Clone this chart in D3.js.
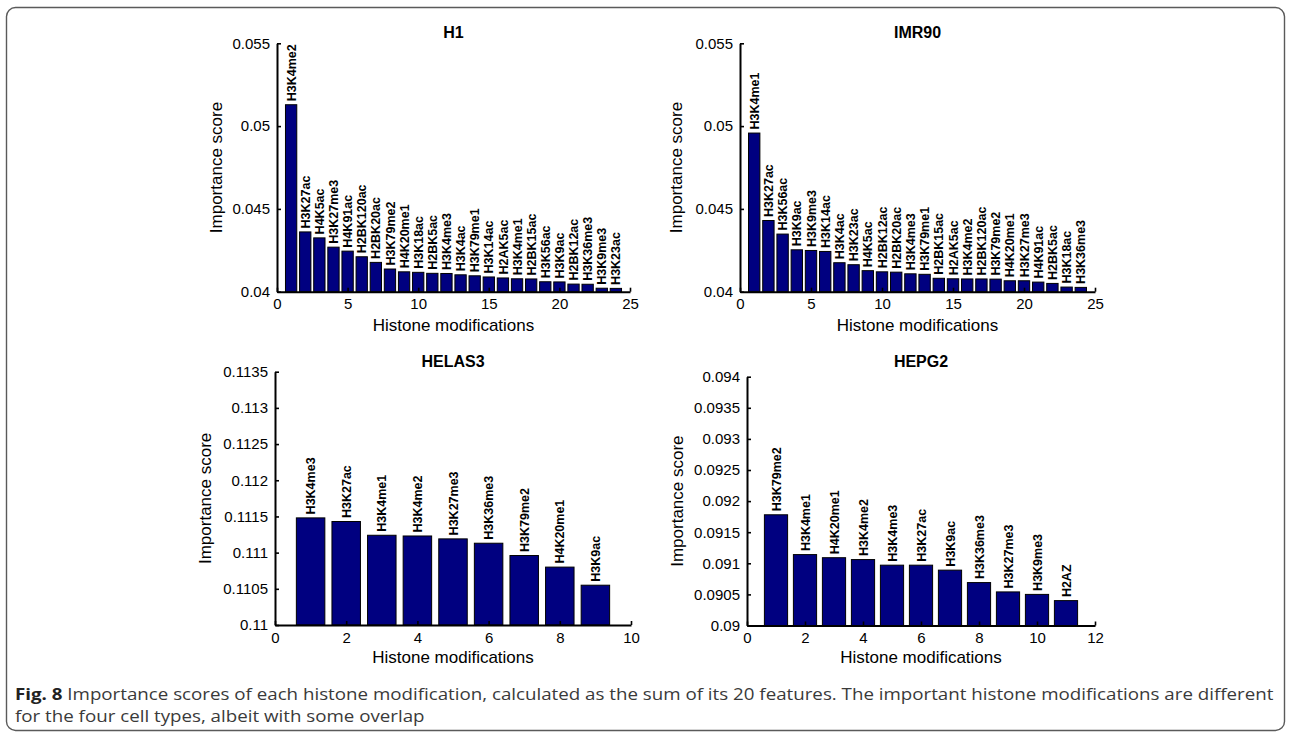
<!DOCTYPE html>
<html>
<head>
<meta charset="utf-8">
<script src="https://cdn.jsdelivr.net/npm/d3@7"></script>
<style>
  html, body { margin: 0; padding: 0; background: #ffffff; }
  svg { display: block; }
</style>
</head>
<body>
<svg id="fig" width="1292" height="734"></svg>
<script>
// ---- Importance scores per histone modification, one set per cell type ----
const h1Marks = ["H3K4me2","H3K27ac","H4K5ac","H3K27me3","H4K91ac","H2BK120ac","H2BK20ac","H3K79me2",
  "H4K20me1","H3K18ac","H2BK5ac","H3K4me3","H3K4ac","H3K79me1","H3K14ac","H2AK5ac","H3K4me1",
  "H2BK15ac","H3K56ac","H3K9ac","H2BK12ac","H3K36me3","H3K9me3","H3K23ac"];
const h1Scores = [0.05129,0.04361,0.04325,0.04269,0.04245,0.04211,0.04177,0.04137,
  0.04120,0.04117,0.04111,0.04110,0.04102,0.04096,0.04089,0.04083,0.04078,
  0.04077,0.04060,0.04059,0.04046,0.04045,0.04021,0.04020];

const imr90Marks = ["H3K4me1","H3K27ac","H3K56ac","H3K9ac","H3K9me3","H3K14ac","H3K4ac","H3K23ac",
  "H4K5ac","H2BK12ac","H2BK20ac","H3K4me3","H3K79me1","H2BK15ac","H2AK5ac","H3K4me2","H2BK120ac",
  "H3K79me2","H4K20me1","H3K27me3","H4K91ac","H2BK5ac","H3K18ac","H3K36me3"];
const imr90Scores = [0.04958,0.04430,0.04348,0.04253,0.04249,0.04243,0.04175,0.04163,
  0.04127,0.04120,0.04118,0.04108,0.04105,0.04081,0.04078,0.04077,0.04077,
  0.04076,0.04066,0.04066,0.04058,0.04050,0.04028,0.04026];

const helas3Marks = ["H3K4me3","H3K27ac","H3K4me1","H3K4me2","H3K27me3","H3K36me3","H3K79me2","H4K20me1","H3K9ac"];
const helas3Scores = [0.11148,0.11143,0.11124,0.11123,0.11119,0.11113,0.11096,0.11080,0.11055];

const hepg2Marks = ["H3K79me2","H3K4me1","H4K20me1","H3K4me2","H3K4me3","H3K27ac","H3K9ac","H3K36me3","H3K27me3","H3K9me3","H2AZ"];
const hepg2Scores = [0.09178,0.09114,0.09109,0.09106,0.09097,0.09097,0.09089,0.09069,0.09054,0.09050,0.09040];

// ---- Axis tick values and their printed labels ----
const topXTicks = [0, 5, 10, 15, 20, 25];
const topYTicks = [0.04, 0.045, 0.05, 0.055];
const topYLabels = ["0.04", "0.045", "0.05", "0.055"];
const helas3XTicks = [0, 2, 4, 6, 8, 10];
const helas3YTicks = [0.11, 0.1105, 0.111, 0.1115, 0.112, 0.1125, 0.113, 0.1135];
const helas3YLabels = ["0.11", "0.1105", "0.111", "0.1115", "0.112", "0.1125", "0.113", "0.1135"];
const hepg2XTicks = [0, 2, 4, 6, 8, 10, 12];
const hepg2YTicks = [0.09, 0.0905, 0.091, 0.0915, 0.092, 0.0925, 0.093, 0.0935, 0.094];
const hepg2YLabels = ["0.09", "0.0905", "0.091", "0.0915", "0.092", "0.0925", "0.093", "0.0935", "0.094"];

const xAxisTitle = "Histone modifications";
const yAxisTitle = "Importance score";
const captionBold = "Fig. 8";
const captionLine1 = " Importance scores of each histone modification, calculated as the sum of its 20 features. The important histone modifications are different";
const captionLine2 = "for the four cell types, albeit with some overlap";

// ---- Panel geometry ----
const panels = [
  { title: "H1", marks: h1Marks, scores: h1Scores, xDomain: [0, 25], yDomain: [0.04, 0.055],
    xTicks: topXTicks, yTicks: topYTicks, yLabels: topYLabels,
    left: 277, right: 630, top: 43.3, bottom: 291.7, titleY: 37.5, yTitleX: 215.5, xTitleY: 331 },
  { title: "IMR90", marks: imr90Marks, scores: imr90Scores, xDomain: [0, 25], yDomain: [0.04, 0.055],
    xTicks: topXTicks, yTicks: topYTicks, yLabels: topYLabels,
    left: 740, right: 1095, top: 43.3, bottom: 291.7, titleY: 37.5, yTitleX: 676, xTitleY: 331 },
  { title: "HELAS3", marks: helas3Marks, scores: helas3Scores, xDomain: [0, 10], yDomain: [0.11, 0.1135],
    xTicks: helas3XTicks, yTicks: helas3YTicks, yLabels: helas3YLabels,
    left: 275, right: 631, top: 371.7, bottom: 625, titleY: 366.7, yTitleX: 205, xTitleY: 663 },
  { title: "HEPG2", marks: hepg2Marks, scores: hepg2Scores, xDomain: [0, 12], yDomain: [0.09, 0.094],
    xTicks: hepg2XTicks, yTicks: hepg2YTicks, yLabels: hepg2YLabels,
    left: 747, right: 1095, top: 376.7, bottom: 625.5, titleY: 366.7, yTitleX: 677, xTitleY: 663 }
];

const FONT = "'Liberation Sans', Arial, Helvetica, sans-serif";
const BAR_FILL = "#000080";
const BAR_WIDTH = 0.8;

const svg = d3.select("#fig");

// Rounded frame around the whole figure
svg.append("rect")
  .attr("x", 6.5).attr("y", 7.5)
  .attr("width", 1278).attr("height", 723)
  .attr("rx", 9).attr("ry", 9)
  .attr("fill", "none")
  .attr("stroke", "#5a5a5a")
  .attr("stroke-width", 1.4);

panels.forEach(p => {
  const x = d3.scaleLinear().domain(p.xDomain).range([p.left, p.right]);
  const y = d3.scaleLinear().domain(p.yDomain).range([p.bottom, p.top]);
  const g = svg.append("g");

  // bars
  g.selectAll("rect.bar")
    .data(p.scores)
    .join("rect")
    .attr("class", "bar")
    .attr("x", (d, i) => x(i + 1 - BAR_WIDTH / 2))
    .attr("width", x(BAR_WIDTH) - x(0))
    .attr("y", d => y(d))
    .attr("height", d => y(p.yDomain[0]) - y(d))
    .attr("fill", BAR_FILL)
    .attr("stroke", "#000")
    .attr("stroke-width", 1);

  // rotated modification names above each bar
  g.selectAll("text.barlabel")
    .data(p.scores)
    .join("text")
    .attr("class", "barlabel")
    .attr("transform", (d, i) => `translate(${x(i + 1) + 4.6},${y(d) - 3.5}) rotate(-90)`)
    .attr("font-family", FONT)
    .attr("font-weight", "bold")
    .attr("font-size", 12.5)
    .attr("fill", "#000")
    .text((d, i) => p.marks[i]);

  // axes with inward ticks
  const xAxis = d3.axisBottom(x)
    .tickValues(p.xTicks)
    .tickFormat(d3.format("d"))
    .tickSizeInner(-4).tickSizeOuter(0).tickPadding(7);
  const yAxis = d3.axisLeft(y)
    .tickValues(p.yTicks)
    .tickFormat((d, i) => p.yLabels[i])
    .tickSizeInner(-4).tickSizeOuter(0).tickPadding(7);

  const gx = g.append("g").attr("transform", `translate(0,${p.bottom})`).call(xAxis);
  const gy = g.append("g").attr("transform", `translate(${p.left},0)`).call(yAxis);
  [gx, gy].forEach(a => {
    a.select(".domain").attr("stroke", "#000").attr("stroke-width", 2);
    a.selectAll(".tick line").attr("stroke", "#000").attr("stroke-width", 1.6);
    a.selectAll(".tick text").attr("font-family", FONT).attr("font-size", 15).attr("fill", "#000");
  });

  // titles
  g.append("text")
    .attr("x", (p.left + p.right) / 2).attr("y", p.titleY)
    .attr("text-anchor", "middle")
    .attr("font-family", FONT).attr("font-weight", "bold").attr("font-size", 16)
    .text(p.title);

  g.append("text")
    .attr("x", (p.left + p.right) / 2).attr("y", p.xTitleY)
    .attr("text-anchor", "middle")
    .attr("font-family", FONT).attr("font-size", 17)
    .text(xAxisTitle);

  g.append("text")
    .attr("transform", `translate(${p.yTitleX + 6},${(p.top + p.bottom) / 2}) rotate(-90)`)
    .attr("text-anchor", "middle")
    .attr("font-family", FONT).attr("font-size", 17)
    .text(yAxisTitle);
});

// Caption below the panels
const CAP_FONT = "'Open Sans', 'Noto Sans', sans-serif";
const CAP_SIZE = 16;
const cap1 = svg.append("text")
  .attr("x", 15).attr("y", 700)
  .attr("font-family", CAP_FONT).attr("font-size", CAP_SIZE).attr("fill", "#3a3a3a");
cap1.append("tspan").attr("font-weight", "bold").attr("fill", "#222").text(captionBold);
cap1.append("tspan").text(captionLine1);

const cap2 = svg.append("text")
  .attr("x", 15).attr("y", 722)
  .attr("font-family", CAP_FONT).attr("font-size", CAP_SIZE).attr("fill", "#3a3a3a")
  .text(captionLine2);

// fit the first caption line to the frame width; the second shares its horizontal scale
const natural = cap1.node().getComputedTextLength();
const sx = 1260 / natural;
cap1.attr("transform", `translate(15,0) scale(${sx},1) translate(-15,0)`);
cap2.attr("transform", `translate(15,0) scale(${sx},1) translate(-15,0)`);
</script>
</body>
</html>
